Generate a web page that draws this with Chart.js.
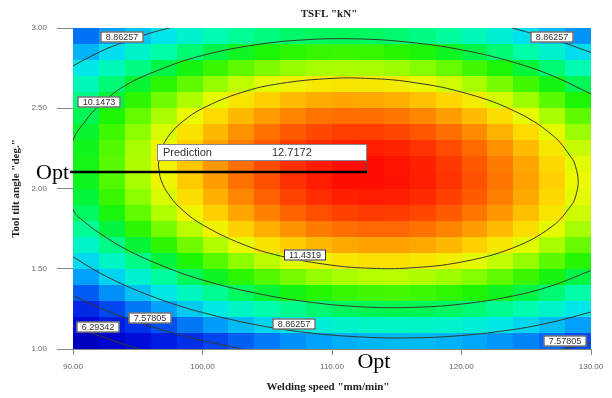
<!DOCTYPE html>
<html>
<head>
<meta charset="utf-8">
<script src="https://cdn.jsdelivr.net/npm/chart.js@4.4.1/dist/chart.umd.min.js"></script>
<style>
  html, body { margin: 0; padding: 0; background: #fff; }
  #tsflChart { display: block; }
</style>
</head>
<body>
<canvas id="tsflChart" width="612" height="398" style="width:612px;height:398px"></canvas>
<script>
// grid of the response surface (cell centres)
const speeds = [91, 93, 95, 97, 99, 101, 103, 105, 107, 109, 111, 113, 115, 117, 119, 121, 123, 125, 127, 129];
const tiltAngles = [1.05, 1.15, 1.25, 1.35, 1.45, 1.55, 1.65, 1.75, 1.85, 1.95, 2.05, 2.15, 2.25, 2.35, 2.45, 2.55, 2.65, 2.75, 2.85, 2.95];

// TSFL (kN), one row per tilt angle, bottom row first
const tsflRows = [
  [5.79, 6.25, 6.68, 7.06, 7.40, 7.71, 7.97, 8.19, 8.38, 8.52, 8.63, 8.70, 8.72, 8.71, 8.66, 8.56, 8.43, 8.26, 8.05, 7.80],
  [6.58, 7.04, 7.45, 7.83, 8.17, 8.47, 8.73, 8.95, 9.13, 9.27, 9.37, 9.43, 9.45, 9.43, 9.38, 9.28, 9.14, 8.97, 8.75, 8.49],
  [7.29, 7.74, 8.16, 8.53, 8.86, 9.16, 9.41, 9.63, 9.80, 9.94, 10.03, 10.09, 10.11, 10.08, 10.02, 9.92, 9.78, 9.60, 9.38, 9.12],
  [7.93, 8.38, 8.79, 9.15, 9.48, 9.77, 10.02, 10.23, 10.40, 10.53, 10.62, 10.68, 10.69, 10.66, 10.59, 10.49, 10.34, 10.15, 9.93, 9.66],
  [8.50, 8.94, 9.34, 9.71, 10.03, 10.31, 10.56, 10.76, 10.93, 11.06, 11.14, 11.19, 11.20, 11.16, 11.09, 10.98, 10.83, 10.64, 10.41, 10.14],
  [8.99, 9.42, 9.82, 10.18, 10.50, 10.78, 11.02, 11.22, 11.38, 11.50, 11.59, 11.63, 11.63, 11.59, 11.52, 11.40, 11.24, 11.05, 10.81, 10.54],
  [9.40, 9.84, 10.23, 10.58, 10.90, 11.17, 11.41, 11.61, 11.76, 11.88, 11.95, 11.99, 11.99, 11.95, 11.87, 11.74, 11.58, 11.38, 11.14, 10.86],
  [9.75, 10.18, 10.57, 10.91, 11.22, 11.49, 11.73, 11.92, 12.07, 12.18, 12.25, 12.28, 12.28, 12.23, 12.14, 12.02, 11.85, 11.65, 11.40, 11.12],
  [10.02, 10.44, 10.83, 11.17, 11.48, 11.74, 11.97, 12.15, 12.30, 12.41, 12.47, 12.50, 12.49, 12.44, 12.35, 12.21, 12.04, 11.83, 11.59, 11.30],
  [10.21, 10.63, 11.01, 11.35, 11.65, 11.91, 12.13, 12.31, 12.46, 12.56, 12.62, 12.64, 12.63, 12.57, 12.47, 12.34, 12.16, 11.95, 11.69, 11.40],
  [10.34, 10.75, 11.13, 11.46, 11.76, 12.01, 12.23, 12.40, 12.54, 12.64, 12.70, 12.71, 12.69, 12.63, 12.53, 12.39, 12.21, 11.99, 11.73, 11.43],
  [10.39, 10.79, 11.16, 11.49, 11.78, 12.04, 12.25, 12.42, 12.55, 12.64, 12.70, 12.71, 12.68, 12.62, 12.51, 12.37, 12.18, 11.96, 11.69, 11.39],
  [10.36, 10.76, 11.13, 11.45, 11.74, 11.99, 12.19, 12.36, 12.49, 12.57, 12.62, 12.63, 12.60, 12.53, 12.42, 12.27, 12.08, 11.85, 11.58, 11.27],
  [10.26, 10.66, 11.02, 11.34, 11.62, 11.86, 12.07, 12.23, 12.35, 12.43, 12.48, 12.48, 12.44, 12.37, 12.25, 12.10, 11.90, 11.67, 11.40, 11.08],
  [10.09, 10.48, 10.84, 11.15, 11.43, 11.67, 11.86, 12.02, 12.14, 12.22, 12.25, 12.25, 12.21, 12.13, 12.01, 11.85, 11.65, 11.41, 11.14, 10.82],
  [9.84, 10.23, 10.58, 10.89, 11.16, 11.40, 11.59, 11.74, 11.85, 11.93, 11.96, 11.95, 11.91, 11.82, 11.70, 11.53, 11.33, 11.09, 10.80, 10.48],
  [9.52, 9.91, 10.25, 10.56, 10.82, 11.05, 11.24, 11.39, 11.49, 11.56, 11.59, 11.58, 11.53, 11.44, 11.31, 11.14, 10.93, 10.68, 10.40, 10.07],
  [9.13, 9.51, 9.85, 10.15, 10.41, 10.63, 10.82, 10.96, 11.06, 11.13, 11.15, 11.13, 11.08, 10.98, 10.85, 10.68, 10.46, 10.21, 9.92, 9.58],
  [8.66, 9.04, 9.37, 9.67, 9.92, 10.14, 10.32, 10.46, 10.56, 10.62, 10.63, 10.61, 10.55, 10.45, 10.32, 10.14, 9.92, 9.66, 9.36, 9.02],
  [8.12, 8.49, 8.82, 9.11, 9.36, 9.58, 9.75, 9.88, 9.98, 10.03, 10.04, 10.02, 9.95, 9.85, 9.71, 9.52, 9.30, 9.04, 8.73, 8.39]
];

// contour lines: [speed, tilt]
const contour11 = [[96.59, 2.148], [96.8, 2.242], [97.5, 2.340], [98.5, 2.419], [100, 2.499], [103, 2.598], [106, 2.654], [110, 2.686], [113, 2.685], [116, 2.664], [120, 2.601], [124, 2.486], [127, 2.334], [128.5, 2.191], [128.8, 2.138], [129.01, 2.042], [128.8, 1.948], [128.5, 1.897], [127, 1.764], [124, 1.631], [120, 1.542], [116, 1.505], [113, 1.503], [110, 1.522], [106, 1.580], [103, 1.656], [100, 1.774], [98.5, 1.863], [97.5, 1.950], [96.8, 2.052], [96.59, 2.148]];
const contour10 = [[130, 2.589], [127, 2.703], [124, 2.787], [120, 2.864], [116, 2.911], [112, 2.932], [108, 2.927], [104, 2.894], [100, 2.829], [97, 2.750], [94, 2.640], [92, 2.515], [91, 2.425], [90, 2.300], [89.5, 2.080], [90, 1.870], [91, 1.785], [92, 1.725], [94, 1.625], [97, 1.515], [100, 1.430], [104, 1.350], [108, 1.295], [112, 1.264], [116, 1.259], [120, 1.280], [124, 1.331], [127, 1.395], [130, 1.489]];
const contour8TopLeft = [[90, 2.764], [92, 2.849], [94, 2.915], [96, 2.969], [97, 2.991], [97.45, 3.0]];
const contour8TopRight = [[123.9, 3.0], [126, 2.954], [128, 2.905], [130, 2.847]];
const contour8Bottom = [[90, 1.574], [92, 1.477], [94, 1.397], [96, 1.331], [98, 1.274], [100, 1.227], [104, 1.153], [108, 1.103], [112, 1.076], [116, 1.069], [120, 1.084], [124, 1.121], [126, 1.150], [128, 1.187], [130, 1.231]];
const contour7Left = [[90, 1.331], [92, 1.259], [94, 1.195], [96, 1.141], [98, 1.094], [100, 1.053], [102, 1.018], [103, 1.0]];
const contour7Right = [[127.8, 1.0], [129, 1.020], [130, 1.039]];
const contour6 = [[90, 1.144], [91, 1.112], [92, 1.083], [94, 1.028], [95, 1.004], [95.1, 1.0]];

// contour label texts and where they sit
const contourLabelText = ['8.86257', '8.86257', '10.1473', '11.4319', '8.86257', '7.57805', '6.29342', '7.57805'];
const contourLabelSpeed = [93.75, 126.99, 91.97, 107.95, 107.07, 95.95, 91.93, 127.99];
const contourLabelTilt = [2.944, 2.947, 2.542, 1.586, 1.156, 1.193, 1.134, 1.047];

// optimum
const optSpeed = 112.7;
const optTilt = 2.103;
const optValue = 12.7172;

// colour ramp: blue -> cyan -> green -> yellow -> red
const rampStops = [5.8, 6.6, 7.3, 7.8, 8.5, 9.1, 9.65, 10.15, 10.5, 10.8, 11.1, 11.43, 11.7, 12.0, 12.4, 12.72];
const rampColours = [[0, 0, 190], [0, 10, 215], [0, 40, 230], [0, 75, 240], [0, 160, 250], [0, 230, 235], [0, 255, 170], [0, 245, 70], [30, 245, 0], [90, 250, 0], [160, 255, 0], [235, 250, 0], [255, 215, 0], [255, 160, 0], [255, 80, 0], [255, 10, 0]];

function colourFor(v) {
    if (v <= rampStops[0]) return 'rgb(' + rampColours[0].join(',') + ')';
    for (let k = 1; k < rampStops.length; k++) {
        if (v <= rampStops[k]) {
            const t = (v - rampStops[k - 1]) / (rampStops[k] - rampStops[k - 1]);
            const a = rampColours[k - 1], b = rampColours[k];
            return 'rgb(' + a.map((c, n) => Math.round(c + (b[n] - c) * t)).join(',') + ')';
        }
    }
    return 'rgb(' + rampColours[rampColours.length - 1].join(',') + ')';
}

const toPoints = arr => arr.map(p => ({ x: p[0], y: p[1] }));

function contourSet(arr) {
    return {
        data: toPoints(arr),
        showLine: true,
        pointRadius: 0,
        borderColor: '#3b3b2c',
        borderWidth: 1,
        tension: 0.4,
        fill: false
    };
}

// heat map cells, drawn under the contour lines
const heatPlugin = {
    id: 'heat',
    beforeDatasetsDraw(chart) {
        const { ctx, chartArea, scales: { x, y } } = chart;
        const cellW = speeds[1] - speeds[0];
        const cellH = tiltAngles[1] - tiltAngles[0];
        ctx.save();
        ctx.beginPath();
        ctx.rect(chartArea.left, chartArea.top, chartArea.width, chartArea.height);
        ctx.clip();
        tsflRows.forEach((row, j) => {
            const yTop = Math.round(y.getPixelForValue(tiltAngles[j] + cellH / 2));
            const yBot = Math.round(y.getPixelForValue(tiltAngles[j] - cellH / 2));
            row.forEach((v, i) => {
                const xl = Math.round(x.getPixelForValue(speeds[i] - cellW / 2));
                const xr = Math.round(x.getPixelForValue(speeds[i] + cellW / 2));
                ctx.fillStyle = colourFor(v);
                ctx.fillRect(xl, yTop, xr - xl, yBot - yTop);
            });
        });
        ctx.restore();
    }
};

// contour labels, prediction flag, Opt marks and titles
const textPlugin = {
    id: 'texts',
    afterDatasetsDraw(chart) {
        const { ctx, scales: { x, y } } = chart;
        ctx.save();
        ctx.font = '9px "Liberation Sans", Arial, sans-serif';
        ctx.textAlign = 'center';
        ctx.textBaseline = 'middle';
        contourLabelText.forEach((t, i) => {
            const px = Math.round(x.getPixelForValue(contourLabelSpeed[i]));
            const py = Math.round(y.getPixelForValue(contourLabelTilt[i]));
            const w = Math.round(ctx.measureText(t).width) + 10;
            ctx.fillStyle = '#ffffff';
            ctx.fillRect(px - w / 2, py - 5.5, w, 11);
            ctx.strokeStyle = '#333';
            ctx.lineWidth = 1;
            ctx.strokeRect(px - w / 2 + 0.5, py - 5, w - 1, 10);
            ctx.fillStyle = '#333';
            ctx.fillText(t, px, py + 0.5);
        });

        // prediction flag
        const ox = Math.round(x.getPixelForValue(optSpeed));
        const oy = Math.round(y.getPixelForValue(optTilt));
        ctx.fillStyle = '#ffffff';
        ctx.fillRect(ox - 210, oy - 28, 210, 17);
        ctx.strokeStyle = '#888';
        ctx.strokeRect(ox - 209.5, oy - 27.5, 209, 16);
        ctx.strokeStyle = '#555';
        ctx.beginPath();
        ctx.moveTo(ox + 0.5, oy - 11);
        ctx.lineTo(ox + 0.5, oy);
        ctx.stroke();
        ctx.fillStyle = '#333';
        ctx.textAlign = 'left';
        ctx.font = '11px "Liberation Sans", Arial, sans-serif';
        ctx.fillText('Prediction', ox - 204, oy - 19);
        ctx.fillText(optValue.toFixed(4), ox - 95, oy - 19);

        // Opt line to the axis
        ctx.strokeStyle = '#000';
        ctx.lineWidth = 2.5;
        ctx.beginPath();
        ctx.moveTo(70, oy);
        ctx.lineTo(ox, oy);
        ctx.stroke();
        ctx.restore();
    },
    afterDraw(chart) {
        const { ctx, chartArea, scales: { x, y } } = chart;
        const ox = x.getPixelForValue(optSpeed);
        const oy = y.getPixelForValue(optTilt);
        const midX = (chartArea.left + chartArea.right) / 2;
        ctx.save();
        ctx.fillStyle = '#000';
        ctx.font = '22px "Liberation Serif", "Times New Roman", serif';
        ctx.textBaseline = 'alphabetic';
        ctx.textAlign = 'right';
        ctx.fillText('Opt', 69, oy + 7.5);
        ctx.textAlign = 'center';
        ctx.fillText('Opt', ox + 7, 368);

        ctx.fillStyle = '#222';
        ctx.font = 'bold 11px "Liberation Serif", "Times New Roman", serif';
        ctx.textBaseline = 'middle';
        ctx.fillText('TSFL "kN"', midX - 3, 14);
        ctx.fillText('Welding speed "mm/min"', midX - 4, 387);
        ctx.translate(16, (chartArea.top + chartArea.bottom) / 2);
        ctx.rotate(-Math.PI / 2);
        ctx.fillText('Tool tilt angle "deg."', 0, 0);
        ctx.restore();
    }
};

Chart.defaults.font.family = '"Liberation Sans", Arial, sans-serif';

var chartCanvas = document.getElementById('tsflChart').getContext('2d');

var tsflChart = new Chart(chartCanvas, {
    type: 'scatter',
    data: {
        datasets: [
            contourSet(contour11),
            contourSet(contour10),
            contourSet(contour8TopLeft),
            contourSet(contour8TopRight),
            contourSet(contour8Bottom),
            contourSet(contour7Left),
            contourSet(contour7Right),
            contourSet(contour6)
        ]
    },
    options: {
        responsive: false,
        devicePixelRatio: 1,
        animation: false,
        events: [],
        layout: { padding: { top: 28, right: 21, left: 0, bottom: 0 } },
        plugins: {
            legend: { display: false },
            tooltip: { enabled: false }
        },
        scales: {
            x: {
                type: 'linear',
                min: 90,
                max: 130,
                ticks: {
                    stepSize: 10,
                    padding: 7,
                    color: '#666',
                    font: { size: 8 },
                    maxRotation: 0,
                    callback: v => v.toFixed(2)
                },
                grid: { drawOnChartArea: false, drawTicks: true, tickLength: 6, color: '#888' },
                border: { display: true, color: '#888' },
                afterFit: s => { s.height = 49; }
            },
            y: {
                type: 'linear',
                min: 1,
                max: 3,
                ticks: {
                    stepSize: 0.5,
                    padding: 10,
                    color: '#666',
                    font: { size: 8 },
                    callback: v => v.toFixed(2)
                },
                grid: { drawOnChartArea: false, drawTicks: true, tickLength: 16, color: '#888' },
                border: { display: true, color: '#888' },
                afterFit: s => { s.width = 73; }
            }
        }
    },
    plugins: [heatPlugin, textPlugin]
});
</script>
</body>
</html>
